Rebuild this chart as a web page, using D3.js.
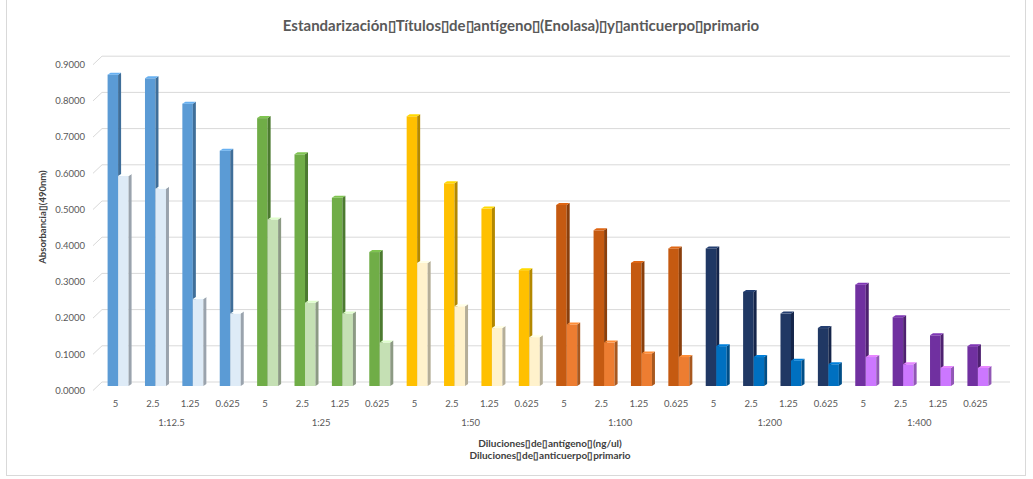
<!DOCTYPE html>
<html>
<head>
<meta charset="utf-8">
<script src="https://cdn.jsdelivr.net/npm/d3@7"></script>
<style>
  html, body { margin: 0; padding: 0; background: #ffffff; }
  svg { display: block; font-family: Lato, "Open Sans", sans-serif; }
</style>
</head>
<body>
<svg id="chart" width="1033" height="479"></svg>
<script>
// Antibody dilutions (outer categories) and antigen concentrations (inner categories)
const antibodyDilutions = ["1:12.5", "1:25", "1:50", "1:100", "1:200", "1:400"];
const antigenConcentrations = ["5", "2.5", "1.25", "0.625"];

// Absorbance at 490 nm, one row per antibody dilution, one entry per antigen concentration
const backSeries = [
  [0.86, 0.85, 0.78, 0.65],
  [0.74, 0.64, 0.52, 0.37],
  [0.745, 0.56, 0.49, 0.32],
  [0.50, 0.43, 0.34, 0.38],
  [0.38, 0.26, 0.20, 0.16],
  [0.28, 0.19, 0.14, 0.11]
];
const frontSeries = [
  [0.58, 0.545, 0.24, 0.20],
  [0.46, 0.23, 0.20, 0.12],
  [0.34, 0.22, 0.16, 0.135],
  [0.17, 0.12, 0.09, 0.08],
  [0.11, 0.08, 0.07, 0.06],
  [0.08, 0.06, 0.05, 0.05]
];

const yTickValues = [0, 0.1, 0.2, 0.3, 0.4, 0.5, 0.6, 0.7, 0.8, 0.9];

const titleText = "Estandarización\u25AFTítulos\u25AFde\u25AFantígeno\u25AF(Enolasa)\u25AFy\u25AFanticuerpo\u25AFprimario";
const yTitleText = "Absorbancia\u25AF(490nm)";
const xTitleLines = ["Diluciones\u25AFde\u25AFantígeno\u25AF(ng/ul)", "Diluciones\u25AFde\u25AFanticuerpo\u25AFprimario"];

// Colours per antibody dilution: [back front, back side, front front, front side]
const palette = [
  ["#5B9BD5", "#3F6E99", "#DEEBF7", "#9AA3AD"],
  ["#70AD47", "#4C7A30", "#C5E0B4", "#8C9A84"],
  ["#FFC000", "#B38800", "#FFF2CC", "#B5AE98"],
  ["#C55A11", "#8A3F0C", "#ED7D31", "#A8581F"],
  ["#203864", "#15254A", "#0070C0", "#004E87"],
  ["#7030A0", "#4E2170", "#CC77FF", "#9157B5"]
];

const svg = d3.select("#chart");

// Chart frame
svg.append("rect")
  .attr("x", 6.5).attr("y", -1)
  .attr("width", 1019).attr("height", 476.5)
  .attr("fill", "#ffffff")
  .attr("stroke", "#D9D9D9");

// Flattened category list
const cats = [];
antibodyDilutions.forEach((g, gi) => {
  antigenConcentrations.forEach((c, ci) => {
    cats.push({ key: g + "|" + c, group: g, gi, conc: c, back: backSeries[gi][ci], front: frontSeries[gi][ci] });
  });
});

const x = d3.scaleBand()
  .domain(cats.map(d => d.key))
  .range([96.8, 994])
  .paddingInner(0).paddingOuter(0);

const y = d3.scaleLinear().domain([0, 0.9]).range([386, 60.2]);

// 3D projection offsets
const depthX = 3, depthY = 2;
const wallShift = -4;    // back wall above the bar plane
const faceW = 10.5;      // front face width of each column

// Gridlines on the back wall with slanted side-wall ticks
const grid = svg.append("g");
yTickValues.forEach(v => {
  const yy = y(v);
  grid.append("line")
    .attr("x1", 93).attr("y1", yy + 4.5)
    .attr("x2", 102).attr("y2", yy + wallShift)
    .attr("stroke", "#D9D9D9").attr("stroke-width", 1);
  grid.append("line")
    .attr("x1", 102).attr("y1", yy + wallShift)
    .attr("x2", 1010).attr("y2", yy + wallShift)
    .attr("stroke", "#D9D9D9").attr("stroke-width", 1);
});

// Y tick labels
svg.append("g")
  .selectAll("text")
  .data(yTickValues)
  .join("text")
  .attr("x", 85)
  .attr("y", d => y(d) + 4.5)
  .attr("dy", "0.35em")
  .attr("text-anchor", "end")
  .attr("font-size", 9.5)
  .attr("fill", "#595959")
  .text(d => d3.format(".4f")(d));

// Draw a single 3D column
function column(g, x0, v, front, side) {
  const yt = y(v), yb = y(0);
  const x1 = x0 + faceW;
  g.append("rect")
    .attr("x", x0).attr("y", yt)
    .attr("width", faceW).attr("height", yb - yt)
    .attr("fill", front);
  g.append("path")
    .attr("d", `M${x1},${yt}L${x1 + depthX},${yt - depthY}L${x1 + depthX},${yb - depthY}L${x1},${yb}Z`)
    .attr("fill", side);
  g.append("path")
    .attr("d", `M${x0},${yt}L${x0 + depthX},${yt - depthY}L${x1 + depthX},${yt - depthY}L${x1},${yt}Z`)
    .attr("fill", d3.color(front).brighter(0.35));
}

const bars = svg.append("g");
cats.forEach(d => {
  const col = palette[d.gi];
  const start = x(d.key) + (x.bandwidth() - 2 * faceW) / 2 + 2.6;
  const g = bars.append("g");
  column(g, start, d.back, col[0], col[1]);
  column(g, start + faceW, d.front, col[2], col[3]);
});

// Inner category labels
svg.append("g")
  .selectAll("text")
  .data(cats)
  .join("text")
  .attr("x", d => x(d.key) + x.bandwidth() / 2)
  .attr("y", 404)
  .attr("dy", "0.35em")
  .attr("text-anchor", "middle")
  .attr("font-size", 9.5)
  .attr("fill", "#595959")
  .text(d => d.conc);

// Outer group labels
svg.append("g")
  .selectAll("text")
  .data(antibodyDilutions)
  .join("text")
  .attr("x", (g) => {
    const first = x(g + "|" + antigenConcentrations[0]);
    const last = x(g + "|" + antigenConcentrations[antigenConcentrations.length - 1]) + x.bandwidth();
    return (first + last) / 2;
  })
  .attr("y", 423)
  .attr("dy", "0.35em")
  .attr("text-anchor", "middle")
  .attr("font-size", 9.5)
  .attr("fill", "#595959")
  .text(d => d);

// Title
svg.append("text")
  .attr("x", 521).attr("y", 31)
  .attr("text-anchor", "middle")
  .attr("font-size", 15)
  .attr("font-weight", "bold")
  .attr("fill", "#595959")
  .text(titleText);

// Axis titles
svg.append("text")
  .attr("transform", "translate(46,217) rotate(-90)")
  .attr("text-anchor", "middle")
  .attr("font-size", 9.5)
  .attr("font-weight", "bold")
  .attr("fill", "#404040")
  .text(yTitleText);

svg.append("g")
  .selectAll("text")
  .data(xTitleLines)
  .join("text")
  .attr("x", 550)
  .attr("y", (d, i) => 443 + i * 12)
  .attr("dy", "0.35em")
  .attr("text-anchor", "middle")
  .attr("font-size", 10)
  .attr("font-weight", "bold")
  .attr("fill", "#404040")
  .text(d => d);
</script>
</body>
</html>
